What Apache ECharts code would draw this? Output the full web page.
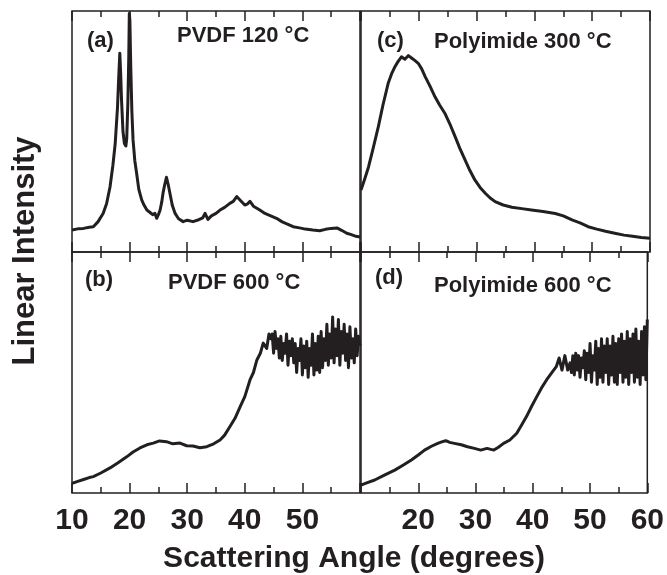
<!DOCTYPE html>
<html>
<head>
<meta charset="utf-8">
<script src="https://cdn.jsdelivr.net/npm/echarts@6/dist/echarts.min.js"></script>
<style>
html,body{margin:0;padding:0;background:#fff;}
#chart{width:667px;height:575px;}
</style>
</head>
<body>
<div id="chart"></div>
<script>
// ---------- data ----------
const xTicks = [10, 20, 30, 40, 50, 60];
const panelLetters = ['(a)', '(b)', '(c)', '(d)'];
const panelTitles = ['PVDF 120 °C', 'PVDF 600 °C', 'Polyimide 300 °C', 'Polyimide 600 °C'];

// (a) PVDF 120 °C
const anglesA = [10, 11, 12, 13, 13.7, 14.5, 15.4, 16, 16.6, 17.1, 17.5, 17.9, 18.1, 18.3, 18.45, 18.6, 18.85, 19.1, 19.35, 19.5, 19.7, 19.85, 19.95, 20.05, 20.2, 20.4, 20.6, 20.9, 21.2, 21.6, 22.1, 22.5, 23, 23.5, 24, 24.4, 24.7, 25, 25.3, 25.6, 25.8, 26.1, 26.4, 26.7, 27, 27.4, 27.9, 28.5, 29.3, 30, 31, 32, 32.7, 33.1, 33.6, 34.2, 35, 35.7, 36.5, 37.4, 38, 38.6, 39.2, 40, 40.5, 40.9, 41.5, 42.6, 43.5, 44.5, 45.5, 46.5, 47.5, 48.4, 49.5, 50.5, 51.8, 53, 54, 55, 56, 56.8, 57.7, 58.5, 59.3, 60];
const intensityA = [9.1, 9.6, 9.8, 10.3, 10.5, 12.5, 16, 20, 27, 36, 45, 60, 72, 82.5, 74, 63, 50, 45, 44, 47, 62, 80, 99, 96, 77, 58, 46.5, 38, 33, 26, 21.6, 19.5, 17.4, 16.5, 15.5, 16, 14, 15.5, 17.4, 21, 24.4, 28, 31, 28, 24.4, 19.5, 16, 13.8, 12.6, 13.2, 12.6, 13.4, 14.2, 16, 13.5, 15, 16, 17.4, 18.5, 20.2, 21, 23, 21.5, 19.5, 20, 21, 19, 17.4, 16, 15, 14, 12.5, 11.5, 10.5, 10, 9.5, 9.1, 8.8, 9.4, 9.8, 10, 9, 7.8, 7.2, 6.5, 6.2];

// (b) PVDF 600 °C
const anglesB = [10, 11, 12, 13, 13.7, 15, 16.6, 18, 19.5, 20.6, 21.8, 23, 24.1, 25.2, 26.4, 27.5, 28.75, 29.9, 31, 32.2, 33.4, 34.6, 35.7, 36.5, 37.4, 38.3, 39.2, 40, 40.9, 41.5, 42.1, 42.7, 43.2, 43.8, 44.2,
  44.5, 44.75, 45, 45.25, 45.5, 45.75, 46, 46.25, 46.5, 46.75, 47, 47.25, 47.5, 47.75, 48, 48.25, 48.5, 48.75, 49, 49.25, 49.5, 49.75, 50, 50.25, 50.5, 50.75, 51, 51.25, 51.5, 51.75, 52, 52.25, 52.5, 52.75, 53, 53.25, 53.5, 53.75, 54, 54.25, 54.5, 54.75, 55, 55.25, 55.5, 55.75, 56, 56.25, 56.5, 56.75, 57, 57.25, 57.5, 57.75, 58, 58.25, 58.5, 58.75, 59, 59.25, 59.5, 59.75, 60];
const intensityB = [4, 4.8, 5.6, 6.4, 6.8, 8.3, 10.4, 12.6, 15, 17, 18.7, 20, 20.7, 21.6, 21.3, 20.4, 20.7, 19.6, 19.5, 18.8, 19.2, 20.4, 22, 24, 27.5, 31, 35.8, 40, 46.9, 50, 55.2, 58, 62.2, 60, 66,
  64, 66, 58, 67, 60, 64, 56, 65, 55, 62, 58, 66, 53, 63, 57, 64, 54, 62, 50, 60, 55, 64, 49, 61, 52, 63, 48, 60, 53, 66, 49, 62, 51, 65, 50, 67, 52, 64, 55, 70, 53, 66, 56, 73, 54, 68, 57, 72, 53, 67, 58, 70, 55, 66, 52, 69, 56, 64, 54, 68, 57, 65, 61];

// (c) Polyimide 300 °C
const anglesC = [10, 10.6, 11.3, 12.1, 13, 13.8, 14.7, 15.3, 15.9, 16.4, 17, 17.6, 18.2, 18.8, 19.3, 19.9, 20.5, 21.1, 22, 22.8, 23.6, 24.5, 25.4, 26.3, 27.1, 28, 28.8, 29.7, 30.6, 31.5, 32.3, 33.2, 34.6, 36.1, 37.8, 39.5, 41.5, 43.6, 45, 46.5, 48, 49.3, 50.8, 52.3, 53.9, 55.5, 57, 58.5, 60];
const intensityC = [25.7, 30, 35.3, 43, 52, 61, 70, 74, 77, 79, 81, 80, 81.5, 80.4, 79.5, 78.3, 76, 72.8, 68.5, 64.4, 61, 57.6, 53, 47.8, 43, 38.2, 34, 29.9, 26.8, 24.4, 22.5, 20.9, 19.5, 18.6, 18, 17.4, 16.8, 16, 15, 13.3, 12, 10.5, 9.5, 8.6, 7.8, 7, 6.5, 6, 5.7];

// (d) Polyimide 600 °C
const anglesD = [10, 11, 12.4, 14, 15.9, 17.4, 18.8, 20, 21.1, 22.3, 23.4, 24.1, 24.8, 25.5, 26.3, 27.5, 28.6, 29.8, 30.9, 32, 33.2, 34, 34.9, 36, 37.2, 38, 38.9, 39.8, 40.7, 41.5, 42.4, 43.2, 44.1, 44.6, 45.1, 45.6, 46.1,
  46.5, 46.75, 47, 47.25, 47.5, 47.75, 48, 48.25, 48.5, 48.75, 49, 49.25, 49.5, 49.75, 50, 50.25, 50.5, 50.75, 51, 51.25, 51.5, 51.75, 52, 52.25, 52.5, 52.75, 53, 53.25, 53.5, 53.75, 54, 54.25, 54.5, 54.75, 55, 55.25, 55.5, 55.75, 56, 56.25, 56.5, 56.75, 57, 57.25, 57.5, 57.75, 58, 58.25, 58.5, 58.75, 59, 59.25, 59.5, 59.75, 60];
const intensityD = [3.3, 4.2, 5.4, 7.3, 9.5, 11.6, 13.7, 15.8, 17.8, 19.4, 20.6, 21.2, 21.7, 21, 20.6, 20, 19.2, 18.5, 17.8, 18.5, 17.8, 19, 20.6, 22, 24.8, 28, 31.7, 36, 40, 43.5, 46.9, 49.5, 52.4, 56, 51, 57, 51,
  54, 50, 57, 49, 58, 51, 57, 48, 56, 52, 59, 47, 58, 50, 62, 46, 57, 51, 63, 45, 60, 48, 64, 46, 61, 50, 64, 45, 61, 49, 65, 46, 62, 45, 64, 50, 66, 46, 63, 48, 67, 45, 64, 50, 66, 46, 68, 48, 63, 45, 67, 49, 69, 47, 72];

// ---------- chart ----------
const INK = '#231f20';
const FONT = '"Liberation Sans", Arial, Helvetica, sans-serif';
const pair = (xs, ys) => xs.map((x, i) => [x, ys[i]]);
const seriesData = [pair(anglesA, intensityA), pair(anglesB, intensityB), pair(anglesC, intensityC), pair(anglesD, intensityD)];

// grid layout: 0=(a) top-left, 1=(b) bottom-left, 2=(c) top-right, 3=(d) bottom-right
const grids = [
  {left: 72, top: 11, width: 288, height: 241},
  {left: 72, top: 252, width: 288, height: 241},
  {left: 361, top: 11, width: 289, height: 241},
  {left: 361, top: 252, width: 289, height: 241}
];

const xAxes = [];
const yAxes = [];
const series = [];
grids.forEach((g, i) => {
  const isBottom = (i === 1 || i === 3);
  const tickCommon = {
    type: 'value', gridIndex: i, min: xTicks[0], max: xTicks[xTicks.length - 1], interval: 10,
    axisLine: {show: false},
    axisTick: {show: true, inside: true, length: 10, lineStyle: {color: INK, width: 1.5}},
    minorTick: {show: true, splitNumber: 2, length: 6, lineStyle: {color: INK, width: 1.5}},
    splitLine: {show: false},
    minorSplitLine: {show: false}
  };
  xAxes.push(Object.assign({}, tickCommon, {
    position: 'bottom',
    axisLabel: {
      show: isBottom, margin: 13, color: INK, fontSize: 30, fontWeight: 'bold', fontFamily: FONT,
      formatter: (v) => {
        if (i === 1 && v === 60) return '';
        if (i === 3 && v === 10) return '';
        return String(v);
      }
    }
  }));
  xAxes.push(Object.assign({}, tickCommon, {position: 'top', axisLabel: {show: false}}));
  yAxes.push({
    type: 'value', gridIndex: i, min: 0, max: 100,
    axisLine: {show: false}, axisTick: {show: false}, axisLabel: {show: false}, splitLine: {show: false}
  });
});

// panel order in data arrays: a, b, c, d -> grid index 0,1,2,3
seriesData.forEach((d, i) => {
  series.push({
    type: 'line', xAxisIndex: 2 * i, yAxisIndex: i, data: d,
    showSymbol: false, symbol: 'none', smooth: false, clip: true,
    lineStyle: {color: INK, width: 3, join: 'round'},
    animation: false
  });
});

const labelPos = [
  {lx: 87, ly: 41, tx: 177, ty: 35.5},
  {lx: 85, ly: 279.5, tx: 168, ty: 282.5},
  {lx: 377, ly: 41, tx: 434, ty: 41.5},
  {lx: 375, ly: 277.7, tx: 434, ty: 285.5}
];
const graphics = [];
labelPos.forEach((p, i) => {
  graphics.push({type: 'text', x: p.lx, y: p.ly, silent: true,
    style: {text: panelLetters[i], fill: INK, font: 'bold 22px ' + FONT, align: 'left', verticalAlign: 'middle', textAlign: 'left', textVerticalAlign: 'middle'}});
  graphics.push({type: 'text', x: p.tx, y: p.ty, silent: true,
    style: {text: panelTitles[i], fill: INK, font: 'bold 22px ' + FONT, align: 'left', verticalAlign: 'middle', textAlign: 'left', textVerticalAlign: 'middle'}});
});
graphics.push({type: 'text', x: 354, y: 558.5, silent: true,
  style: {text: 'Scattering Angle (degrees)', fill: INK, font: 'bold 30px ' + FONT, align: 'center', verticalAlign: 'middle', textAlign: 'center', textVerticalAlign: 'middle'}});
graphics.push({type: 'text', x: 25, y: 251, rotation: Math.PI / 2, silent: true,
  style: {text: 'Linear Intensity', fill: INK, font: 'bold 31px ' + FONT, align: 'center', verticalAlign: 'middle', textAlign: 'center', textVerticalAlign: 'middle'}});

const chart = echarts.init(document.getElementById('chart'), null, {renderer: 'canvas'});
chart.setOption({
  backgroundColor: '#ffffff',
  animation: false,
  grid: grids.map(g => Object.assign({show: true, borderColor: INK, borderWidth: 1.5, backgroundColor: 'transparent'}, g)),
  xAxis: xAxes,
  yAxis: yAxes,
  series: series,
  graphic: graphics
});
</script>
</body>
</html>
